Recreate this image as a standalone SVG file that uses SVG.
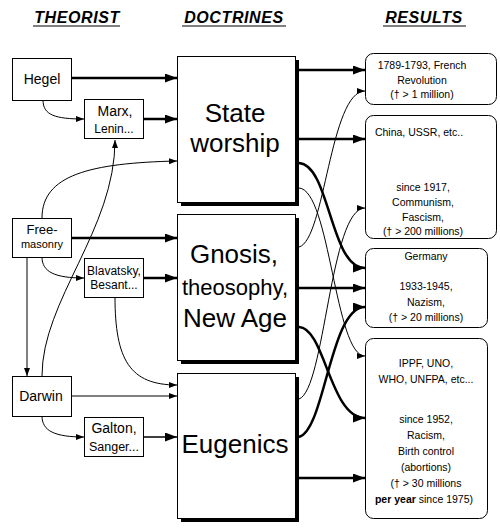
<svg xmlns="http://www.w3.org/2000/svg" width="500" height="532" viewBox="0 0 500 532">
<style>
text{font-family:"Liberation Sans",Arial,Helvetica,sans-serif;fill:#000;text-anchor:middle}
.hd{font-size:16px;font-weight:bold;font-style:italic;letter-spacing:0.6px}
.box{fill:#fff;stroke:#000;stroke-width:1}
.sh{fill:#000}
.thick{fill:none;stroke:#000;stroke-width:2.5}
.mid{fill:none;stroke:#000;stroke-width:1.5}
.thin{fill:none;stroke:#000;stroke-width:1}
.r{font-size:10.5px}
.big{font-size:26px}
</style>
<defs>
<marker id="ah" markerUnits="userSpaceOnUse" markerWidth="13" markerHeight="10" refX="12" refY="4.5" orient="auto"><path d="M0,0 L12,4.5 L0,9 z" fill="#000"/></marker>
<marker id="as" markerUnits="userSpaceOnUse" markerWidth="9" markerHeight="7" refX="8" refY="3" orient="auto"><path d="M0,0 L8,3 L0,6 z" fill="#000"/></marker>
</defs>
<rect width="500" height="532" fill="#fff"/>
<g id="headers">
<text class="hd" x="77" y="23">THEORIST</text>
<line x1="33" y1="26" x2="120" y2="26" stroke="#000"/>
<text class="hd" x="234" y="23">DOCTRINES</text>
<line x1="182" y1="26" x2="286" y2="26" stroke="#000"/>
<text class="hd" x="424" y="23">RESULTS</text>
<line x1="383" y1="26" x2="466" y2="26" stroke="#000"/>
</g>
<g id="connectors">
<path class="thick" d="M71,78 L177,78" marker-end="url(#ah)"/>
<path class="thin" d="M43,100 C43,115 55,119 84,119" marker-end="url(#as)"/>
<path class="thick" d="M143,119 L177,119" marker-end="url(#ah)"/>
<path class="thin" d="M42,376 C42,300 115,230 115,140" marker-end="url(#as)"/>
<path class="thin" d="M42,218 C42,175 90,163 177,161" marker-end="url(#as)"/>
<path class="thick" d="M71,238 L177,238" marker-end="url(#ah)"/>
<path class="thin" d="M42,257 C42,272 55,278 84,278" marker-end="url(#as)"/>
<path class="thick" d="M143,278 L177,278" marker-end="url(#ah)"/>
<path class="thin" d="M27,257 L27,376" marker-end="url(#as)"/>
<path class="thin" d="M115,297 C115,360 130,385 177,385" marker-end="url(#as)"/>
<path class="thin" d="M71,396 L177,396" marker-end="url(#as)"/>
<path class="thin" d="M42,416 C42,431 55,437 84,437" marker-end="url(#as)"/>
<path class="mid" d="M143,437 L177,437" marker-end="url(#ah)"/>
<path class="thick" d="M299,70 L365,70" marker-end="url(#ah)"/>
<path class="thick" d="M299,139 L365,139" marker-end="url(#ah)"/>
<path class="thick" d="M299,163 C330,165 330,268 365,268" marker-end="url(#ah)"/>
<path class="thin" d="M299,188 C330,190 335,356 365,356" marker-end="url(#as)"/>
<path class="thin" d="M299,247 C325,240 330,91 365,91" marker-end="url(#as)"/>
<path class="thin" d="M299,399 C325,390 330,208 365,208" marker-end="url(#as)"/>
<path class="thick" d="M299,288 L365,288" marker-end="url(#ah)"/>
<path class="thick" d="M299,327 C325,328 330,418 365,418" marker-end="url(#ah)"/>
<path class="thick" d="M299,437 C325,430 330,307 365,307" marker-end="url(#ah)"/>
<path class="thick" d="M293,478 L365,478" marker-end="url(#ah)"/>
</g>
<g id="hegel"><rect class="box" x="12.5" y="58.5" width="59" height="42"/><text x="42" y="84" font-size="14">Hegel</text></g>
<g id="marx"><rect class="box" x="84.5" y="99.5" width="59" height="39"/><text x="115" y="116" font-size="14">Marx,</text><text x="114" y="133" font-size="12">Lenin...</text></g>
<g id="freemasonry"><rect class="box" x="12.5" y="218.5" width="59" height="39"/><text x="42" y="234" font-size="13">Free-</text><text x="42" y="248" font-size="11">masonry</text></g>
<g id="blavatsky"><rect class="box" x="84.5" y="258.5" width="59" height="39"/><text x="114" y="275" font-size="12">Blavatsky,</text><text x="114" y="289" font-size="12">Besant...</text></g>
<g id="darwin"><rect class="box" x="12.5" y="376.5" width="59" height="40"/><text x="41" y="401" font-size="14">Darwin</text></g>
<g id="galton"><rect class="box" x="84.5" y="417.5" width="59" height="39"/><text x="114" y="433" font-size="14">Galton,</text><text x="114" y="451" font-size="12.5">Sanger...</text></g>
<g id="state"><rect class="sh" x="181" y="60" width="118" height="146"/><rect class="box" x="177.5" y="56.5" width="118" height="146"/><text class="big" x="235" y="122">State</text><text class="big" x="235" y="152">worship</text></g>
<g id="gnosis"><rect class="sh" x="181" y="218" width="118" height="146"/><rect class="box" x="177.5" y="214.5" width="118" height="146"/><text class="big" x="234" y="263">Gnosis,</text><text x="235" y="295" font-size="22">theosophy,</text><text class="big" x="235" y="327">New Age</text></g>
<g id="eugenics"><rect class="sh" x="181" y="377" width="118" height="145"/><rect class="box" x="177.5" y="373.5" width="118" height="145"/><text class="big" x="235" y="453">Eugenics</text></g>
<g id="r1"><rect class="box" x="365.5" y="53.5" width="131" height="51" rx="8"/><text class="r" x="422" y="69">1789-1793, French</text><text class="r" x="422" y="84">Revolution</text><text class="r" x="422" y="98">(† &gt; 1 million)</text></g>
<g id="r2"><rect class="box" x="365.5" y="115.5" width="131" height="123" rx="8"/><text class="r" x="419" y="136">China, USSR, etc..</text><text class="r" x="423" y="191">since 1917,</text><text class="r" x="423" y="206">Communism,</text><text class="r" x="423" y="221">Fascism,</text><text class="r" x="423" y="235">(† &gt; 200 millions)</text></g>
<g id="r3"><rect class="box" x="365.5" y="248.5" width="122" height="79" rx="8"/><text class="r" x="426" y="260">Germany</text><text class="r" x="426" y="290">1933-1945,</text><text class="r" x="426" y="306">Nazism,</text><text class="r" x="426" y="321">(† &gt; 20 millions)</text></g>
<g id="r4"><rect class="box" x="365.5" y="338.5" width="122" height="180" rx="8"/><text class="r" x="426" y="367">IPPF, UNO,</text><text class="r" x="426" y="383">WHO, UNFPA, etc...</text><text class="r" x="426" y="423">since 1952,</text><text class="r" x="426" y="439">Racism,</text><text class="r" x="426" y="455">Birth control</text><text class="r" x="426" y="471">(abortions)</text><text class="r" x="426" y="487">(† &gt; 30 millions</text><text class="r" x="424" y="503"><tspan font-weight="bold">per year</tspan> since 1975)</text></g>
</svg>
